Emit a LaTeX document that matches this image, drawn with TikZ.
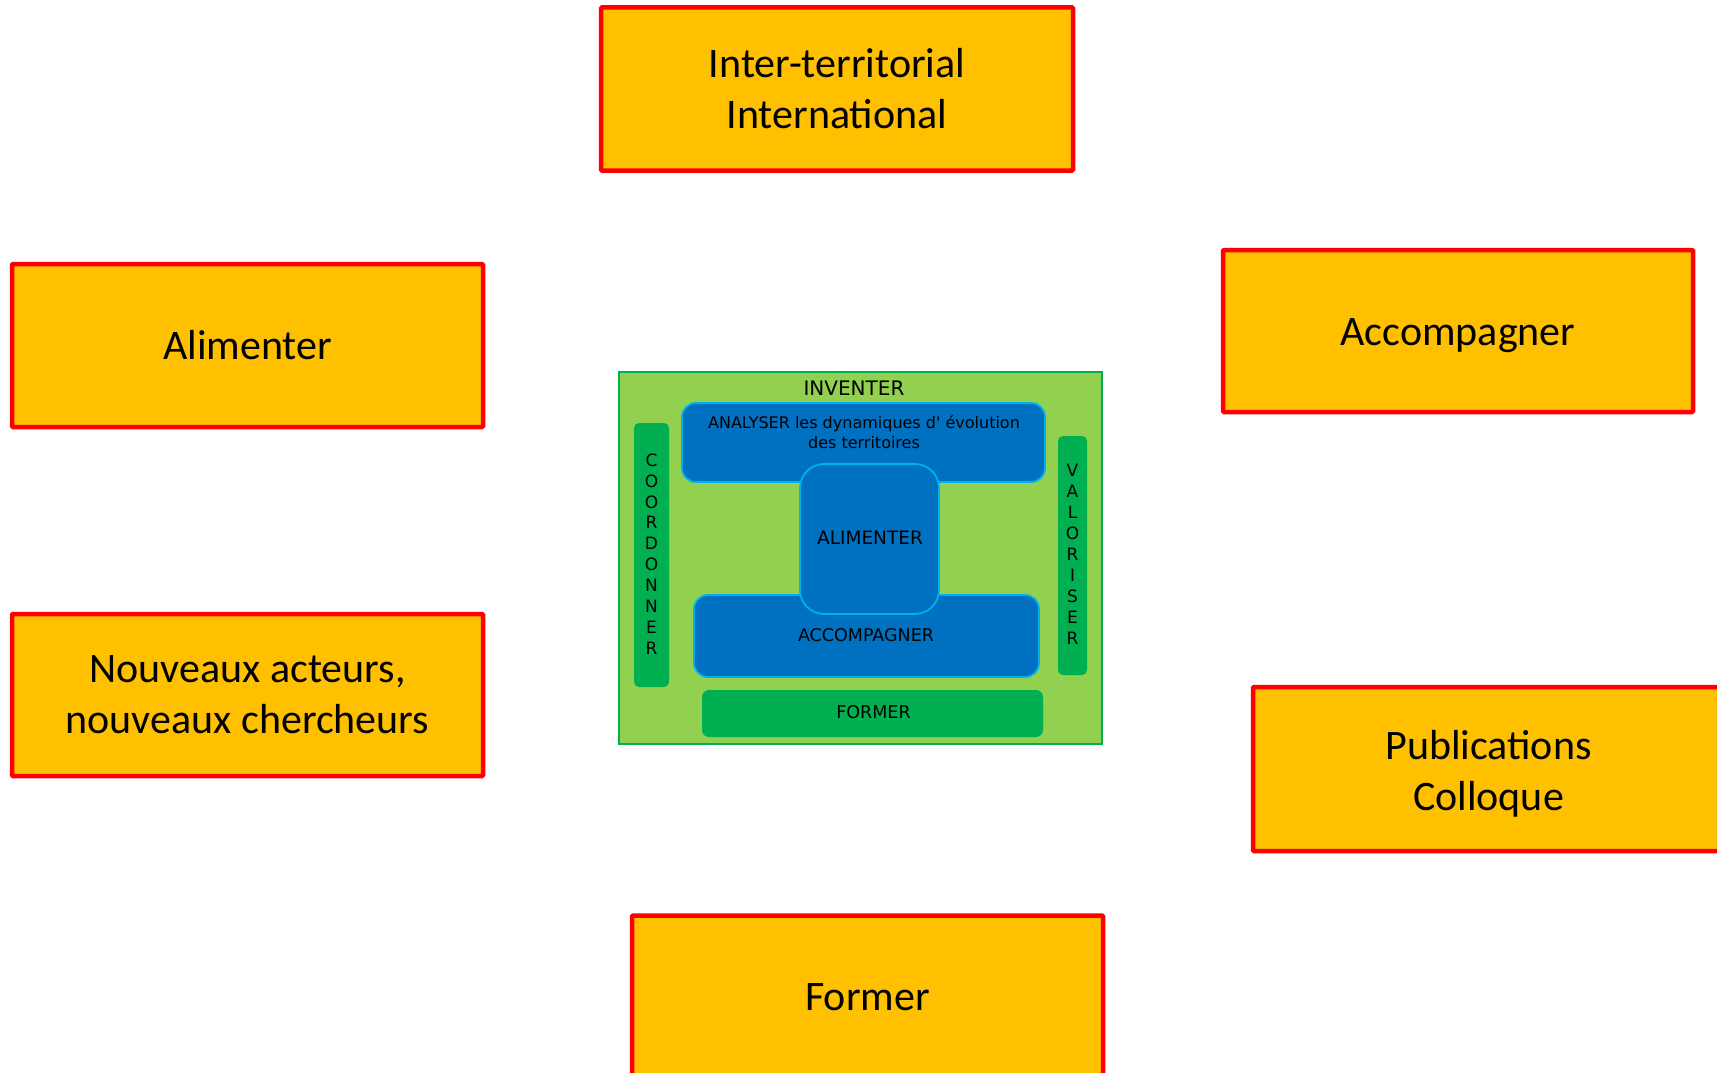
\documentclass[tikz,border=0pt]{standalone}
\usepackage{fontspec}
\setmainfont{Carlito}
\newfontfamily\cfont{DejaVu Sans}
\definecolor{orangefill}{HTML}{FFC000}
\definecolor{redline}{HTML}{FF0000}
\definecolor{lightgreen}{HTML}{92D050}
\definecolor{darkgreen}{HTML}{00B050}
\definecolor{bluefill}{HTML}{0070C0}
\definecolor{blueline}{HTML}{00B0F0}
\tikzset{
  obox/.style={draw=redline, fill=orangefill, line width=4.5pt, rounded corners=1pt,
    align=center, inner sep=0pt, font=\fontsize{42}{51}\selectfont, text=black},
  olabel/.style={label={[align=center, font=\fontsize{42}{51}\selectfont, text=black, inner sep=0pt, yshift=-4.5pt]center:#1}},
  gbar/.style={draw=none, fill=darkgreen, rounded corners=5pt, inner sep=0pt},
  bbox/.style={draw=blueline, fill=bluefill, line width=1.8pt, inner sep=0pt},
  ctext/.style={font=\cfont\fontsize{17.5}{20}\selectfont, text=black, inner sep=0pt, align=center},
}
\begin{document}
\begin{tikzpicture}[x=1pt,y=-1pt]
\useasboundingbox (0,0) rectangle (1717,1073);
% outer boxes
\node[obox, minimum width=472pt, minimum height=163pt] (inter) at (837,89) {Inter-territorial\\International};
\node[obox, minimum width=471pt, minimum height=163pt] (alim) at (247.5,345.5) {Alimenter};
\node[obox, minimum width=470pt, minimum height=162pt, olabel={Accompagner}] (accomp) at (1458,331) {};
\node[obox, minimum width=471pt, minimum height=162pt] (nouv) at (247.5,695) {Nouveaux acteurs,\\nouveaux chercheurs};
\node[obox, minimum width=471pt, minimum height=164pt, olabel={Publications\\Colloque}] (publi) at (1488.5,769) {};
\node[obox, minimum width=471pt, minimum height=163pt] (former) at (867.5,997) {Former};
% central diagram
\node[draw=darkgreen, fill=lightgreen, line width=1.5pt, minimum width=483pt, minimum height=372pt, inner sep=0pt] (inv) at (860.5,558) {};
\node[ctext, font=\cfont\fontsize{20}{20}\selectfont] (invt) at (854,388) {INVENTER};
\node[gbar, minimum width=35pt, minimum height=264pt] (coord) at (651.5,555) {};
\node[ctext, font=\cfont\fontsize{17}{20.9}\selectfont] (coordt) at (651.5,554) {C\\O\\O\\R\\D\\O\\N\\N\\E\\R};
\node[gbar, minimum width=29pt, minimum height=239pt] (valo) at (1072.5,555.5) {};
\node[ctext, font=\cfont\fontsize{17}{21}\selectfont] (valot) at (1072.5,554) {V\\A\\L\\O\\R\\I\\S\\E\\R};
\node[gbar, minimum width=341pt, minimum height=47pt, rounded corners=7pt] (form) at (872.5,713.5) {};
\node[ctext] (formt) at (873.5,712) {FORMER};
\node[bbox, rounded corners=14pt, minimum width=363pt, minimum height=79pt] (anal) at (863.5,442.5) {};
\node[ctext, font=\cfont\fontsize{16}{20}\selectfont] (analt) at (864,432) {ANALYSER les dynamiques d' évolution\\des territoires};
\node[bbox, rounded corners=14pt, minimum width=345pt, minimum height=82pt] (accb) at (866.5,636) {};
\node[ctext] (acct) at (866,635) {ACCOMPAGNER};
\node[bbox, rounded corners=24pt, minimum width=139pt, minimum height=150pt] (alimb) at (869.5,539) {};
\node[ctext, font=\cfont\fontsize{18.5}{20}\selectfont] (alimt) at (870,538) {ALIMENTER};
\end{tikzpicture}
\end{document}
